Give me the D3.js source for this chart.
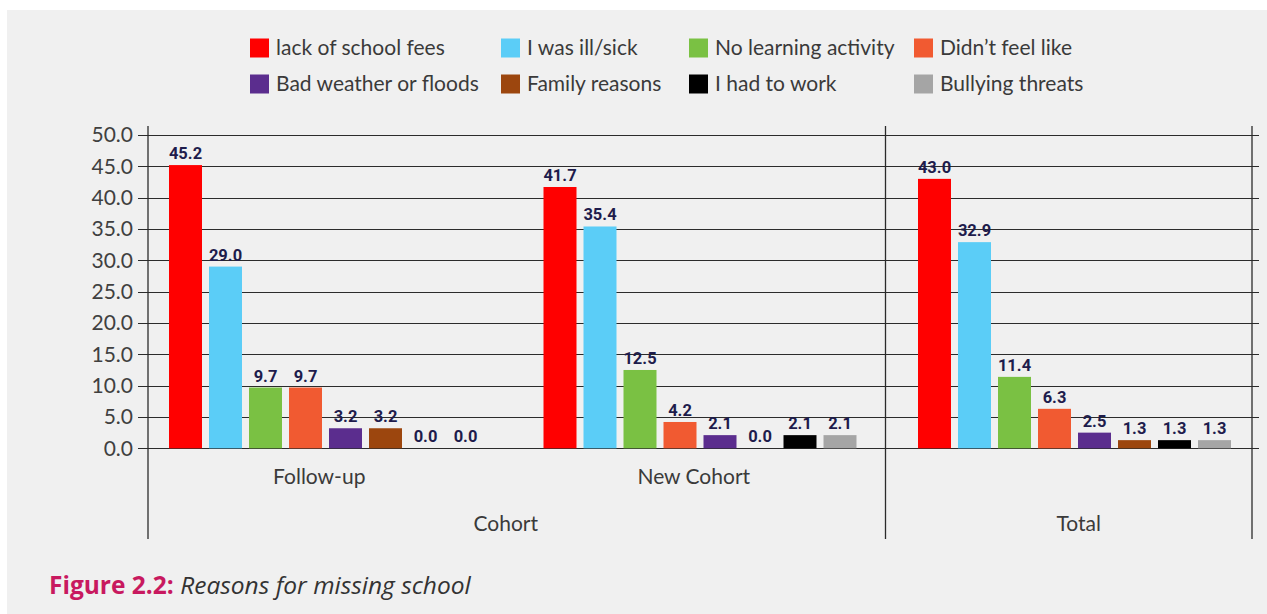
<!DOCTYPE html>
<html lang="en">
<head>
<meta charset="utf-8">
<title>Reasons for missing school</title>
<script src="https://d3js.org/d3.v7.min.js"></script>
<style>
  body { margin: 0; background: #ffffff; }
  text { font-family: Lato, "Open Sans", sans-serif; }
  .tick-label { font-size: 21px; fill: #404040; }
  .legend-text { font-size: 21px; fill: #3a3a3a; }
  .cat-label { font-size: 21px; fill: #3a3a3a; }
  .value-label { font-family: Roboto, "Liberation Sans", sans-serif; font-size: 16.5px; font-weight: bold; fill: #1e1c4c; }
</style>
</head>
<body>
<div id="chart"></div>
<script>
// data
var groups = ["Follow-up", "New Cohort", "Total"];
var reasons = ["lack of school fees", "I was ill/sick", "No learning activity", "Didn\u2019t feel like",
               "Bad weather or floods", "Family reasons", "I had to work", "Bullying threats"];
var colors = ["#ff0000", "#5bcdf7", "#7ac143", "#f15a31", "#5b2d8e", "#9c460e", "#000000", "#a5a5a5"];
var followUp  = [45.2, 29.0, 9.7, 9.7, 3.2, 3.2, 0.0, 0.0];
var newCohort = [41.7, 35.4, 12.5, 4.2, 2.1, 0.0, 2.1, 2.1];
var total     = [43.0, 32.9, 11.4, 6.3, 2.5, 1.3, 1.3, 1.3];
var yTicks = [0, 5, 10, 15, 20, 25, 30, 35, 40, 45, 50];

var values = [followUp, newCohort, total];

var w = 1267, h = 614;
var svg = d3.select("#chart").append("svg").attr("width", w).attr("height", h);

// grey panel
svg.append("rect").attr("x", 7).attr("y", 10).attr("width", w - 7).attr("height", h - 10).attr("fill", "#f0f0f0");

var axisLeft = 148, axisRight = 1252, axisTop = 126, axisBottom = 539;

var y = d3.scaleLinear().domain([0, 50]).range([448.3, 135]);
var x0 = d3.scaleBand().domain(groups).range([138, 1261.5]);
var x1 = d3.scaleBand().domain(d3.range(reasons.length)).range([31, 344]).paddingInner(0.175).paddingOuter(0);

// gridlines + ticks
var grid = svg.append("g");
grid.selectAll("line").data(yTicks).enter().append("line")
  .attr("x1", 138).attr("x2", 1259)
  .attr("y1", function(d) { return Math.round(y(d)) + 0.5; })
  .attr("y2", function(d) { return Math.round(y(d)) + 0.5; })
  .attr("stroke", "#2b2b2b").attr("stroke-width", 1.2);

svg.append("g").selectAll("text").data(yTicks).enter().append("text")
  .attr("class", "tick-label")
  .attr("x", 133).attr("y", function(d) { return y(d); })
  .attr("dy", "0.35em").attr("text-anchor", "end")
  .text(function(d) { return d3.format(".1f")(d); });

// bars
var gGroups = svg.append("g").selectAll("g").data(groups).enter().append("g")
  .attr("transform", function(d) { return "translate(" + x0(d) + ",0)"; });

gGroups.selectAll("rect").data(function(d, i) { return values[i]; }).enter().append("rect")
  .attr("x", function(d, i) { return x1(i); })
  .attr("y", function(d) { return y(d); })
  .attr("width", x1.bandwidth())
  .attr("height", function(d) { return y(0) - y(d); })
  .attr("fill", function(d, i) { return colors[i]; });

gGroups.selectAll("text").data(function(d, i) { return values[i]; }).enter().append("text")
  .attr("class", "value-label")
  .attr("x", function(d, i) { return x1(i) + x1.bandwidth() / 2; })
  .attr("y", function(d) { return y(d) - 6; })
  .attr("text-anchor", "middle")
  .text(function(d) { return d3.format(".1f")(d); });

// vertical axis lines / separators
var vlines = [axisLeft, x0("Total") - 1.5, axisRight];
svg.append("g").selectAll("line").data(vlines).enter().append("line")
  .attr("x1", function(d) { return d; }).attr("x2", function(d) { return d; })
  .attr("y1", axisTop).attr("y2", axisBottom)
  .attr("stroke", "#2b2b2b").attr("stroke-width", 1.3);

// category labels
svg.append("g").selectAll("text").data(groups).enter().append("text")
  .attr("class", "cat-label")
  .attr("x", function(d) { return d === "Total" ? (x0(d) - 1.5 + axisRight) / 2 + 10 : x0(d) + x0.bandwidth() / 2 - 6; })
  .attr("y", function(d) { return d === "Total" ? 531 : 484; })
  .attr("text-anchor", "middle")
  .text(function(d) { return d; });

svg.append("text").attr("class", "cat-label")
  .attr("x", (axisLeft + x0("Total") - 1.5) / 2 - 11).attr("y", 531)
  .attr("text-anchor", "middle").text("Cohort");

// legend
var legendX = [250, 501, 689, 914];
var legend = svg.append("g").selectAll("g").data(reasons).enter().append("g")
  .attr("transform", function(d, i) { return "translate(" + legendX[i % 4] + "," + (i < 4 ? 38.5 : 74.5) + ")"; });
legend.append("rect").attr("width", 19).attr("height", 19).attr("fill", function(d, i) { return colors[i]; });
legend.append("text").attr("class", "legend-text").attr("x", 26).attr("y", 9.5).attr("dy", "0.35em")
  .text(function(d) { return d; });

// caption
var cap = svg.append("text").attr("x", 49).attr("y", 594).style("font-family", "'Open Sans', sans-serif").style("font-size", "24.5px");
cap.append("tspan").style("font-weight", "bold").style("fill", "#c8195f").text("Figure 2.2: ");
cap.append("tspan").style("font-style", "italic").style("fill", "#333").text("Reasons for missing school");
</script>
</body>
</html>
